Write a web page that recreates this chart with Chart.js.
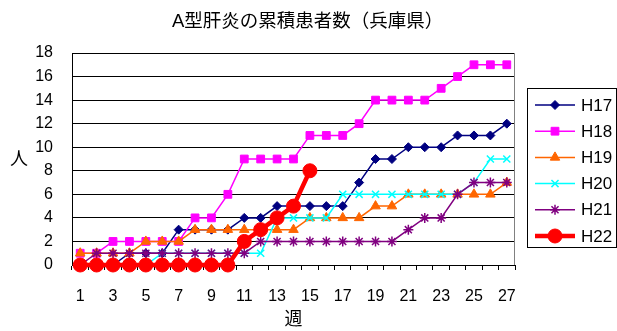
<!DOCTYPE html>
<html>
<head>
<meta charset="utf-8">
<script src="https://cdn.jsdelivr.net/npm/chart.js@4"></script>
<style>
body { margin: 0; background: #fff; }
</style>
</head>
<body>
<canvas id="lineChart" width="617" height="331"></canvas>
<script>
var weeks = [1, 2, 3, 4, 5, 6, 7, 8, 9, 10, 11, 12, 13, 14, 15, 16, 17, 18, 19, 20, 21, 22, 23, 24, 25, 26, 27];
var weekTicks = [1, 3, 5, 7, 9, 11, 13, 15, 17, 19, 21, 23, 25, 27];
var seriesNames = ["H17", "H18", "H19", "H20", "H21", "H22"];
var h17 = [0, 0, 0, 1, 1, 1, 3, 3, 3, 3, 4, 4, 5, 5, 5, 5, 5, 7, 9, 9, 10, 10, 10, 11, 11, 11, 12];
var h18 = [1, 1, 2, 2, 2, 2, 2, 4, 4, 6, 9, 9, 9, 9, 11, 11, 11, 12, 14, 14, 14, 14, 15, 16, 17, 17, 17];
var h19 = [1, 1, 1, 1, 2, 2, 2, 3, 3, 3, 3, 3, 3, 3, 4, 4, 4, 4, 5, 5, 6, 6, 6, 6, 6, 6, 7];
var h20 = [0, 0, 0, 0, 0, 1, 1, 1, 1, 1, 1, 1, 4, 4, 4, 4, 6, 6, 6, 6, 6, 6, 6, 6, 7, 9, 9];
var h21 = [0, 1, 1, 1, 1, 1, 1, 1, 1, 1, 1, 2, 2, 2, 2, 2, 2, 2, 2, 2, 3, 4, 4, 6, 7, 7, 7];
var h22 = [0, 0, 0, 0, 0, 0, 0, 0, 0, 0, 2, 3, 4, 5, 8];

var chartTitle = "A型肝炎の累積患者数（兵庫県）";
var fontFamily = '"Liberation Sans", "Noto Sans CJK JP", sans-serif';

function makeSeries(name, values, color, marker, radius, lineW, order) {
  var stroked = (marker == 'crossRot' || marker == 'star');
  return {
    label: name,
    data: values,
    borderColor: color,
    backgroundColor: color,
    borderWidth: lineW,
    pointStyle: marker,
    pointRadius: radius,
    pointBackgroundColor: color,
    pointBorderColor: color,
    pointBorderWidth: stroked ? 1.5 : 1,
    tension: 0,
    clip: false,
    order: order
  };
}

// gray right edge of the plot area
var plotFrame = {
  id: 'plotFrame',
  beforeDatasetsDraw: function(chart) {
    var a = chart.chartArea;
    var ctx = chart.ctx;
    ctx.save();
    ctx.strokeStyle = '#808080';
    ctx.lineWidth = 1;
    ctx.beginPath();
    ctx.moveTo(Math.round(a.right) - 0.5, a.top);
    ctx.lineTo(Math.round(a.right) - 0.5, a.bottom);
    ctx.stroke();
    ctx.restore();
  }
};

// title over the whole picture, upright y title, legend with line + marker
var sideTexts = {
  id: 'sideTexts',
  afterDraw: function(chart) {
    var ctx = chart.ctx;
    ctx.save();
    ctx.fillStyle = '#000';
    ctx.font = '18.5px ' + fontFamily;
    ctx.textAlign = 'left';
    ctx.textBaseline = 'middle';
    ctx.fillText(chartTitle, 172, 22);
    ctx.font = '18px ' + fontFamily;
    ctx.textAlign = 'center';
    ctx.fillText('人', 19, 160);

    ctx.strokeStyle = '#000';
    ctx.lineWidth = 1;
    ctx.strokeRect(527.5, 88.5, 89, 159);
    chart.data.datasets.forEach(function(ds, i) {
      var y = 105 + i * 26.2;
      ctx.strokeStyle = ds.borderColor;
      ctx.lineWidth = ds.borderWidth;
      ctx.beginPath();
      ctx.moveTo(535, y);
      ctx.lineTo(575, y);
      ctx.stroke();
      ctx.fillStyle = ds.pointBackgroundColor;
      ctx.lineWidth = ds.pointBorderWidth;
      Chart.helpers.drawPoint(ctx, {
        pointStyle: ds.pointStyle,
        radius: ds.pointRadius,
        rotation: 0,
        borderWidth: ds.pointBorderWidth
      }, 555, y);
      ctx.fillStyle = '#000';
      ctx.font = '17px ' + fontFamily;
      ctx.textAlign = 'left';
      ctx.textBaseline = 'middle';
      ctx.fillText(ds.label, 581, y + 1);
    });
    ctx.restore();
  }
};

new Chart("lineChart", {
  type: "line",
  data: {
    labels: weeks,
    datasets: [
      makeSeries(seriesNames[0], h17, "#000080", "rectRot", 4.5, 1.5, 5),
      makeSeries(seriesNames[1], h18, "#FF00FF", "rect", 5.5, 1.5, 4),
      makeSeries(seriesNames[2], h19, "#FF6600", "triangle", 5.5, 1.5, 3),
      makeSeries(seriesNames[3], h20, "#00FFFF", "crossRot", 5, 1.5, 2),
      makeSeries(seriesNames[4], h21, "#800080", "star", 5, 1.5, 1),
      makeSeries(seriesNames[5], h22, "#FF0000", "circle", 7, 4.5, 0)
    ]
  },
  options: {
    responsive: false,
    animation: false,
    layout: { padding: { left: 0, right: 102, top: 53, bottom: 0 } },
    plugins: {
      legend: { display: false },
      tooltip: { enabled: false },
      title: { display: false }
    },
    scales: {
      x: {
        offset: true,
        grid: { offset: true, drawOnChartArea: false, drawTicks: true, tickLength: 5, color: '#000' },
        border: { color: '#000', width: 1 },
        ticks: {
          autoSkip: false,
          maxRotation: 0,
          padding: 17,
          color: '#000',
          font: { family: fontFamily, size: 16 },
          callback: function(value, index) {
            var w = weeks[index];
            return weekTicks.indexOf(w) >= 0 ? String(w) : '';
          }
        },
        title: {
          display: true,
          text: '週',
          color: '#000',
          font: { family: fontFamily, size: 18 },
          padding: { top: 0, bottom: 0 }
        },
        afterFit: function(scale) { scale.height = 66; }
      },
      y: {
        min: 0,
        max: 18,
        grid: { color: '#000', lineWidth: 1, drawTicks: false },
        border: { color: '#000', width: 1 },
        ticks: {
          stepSize: 2,
          padding: 19,
          color: '#000',
          font: { family: fontFamily, size: 16 }
        },
        afterFit: function(scale) { scale.width = 72; }
      }
    }
  },
  plugins: [plotFrame, sideTexts]
});
</script>
</body>
</html>
